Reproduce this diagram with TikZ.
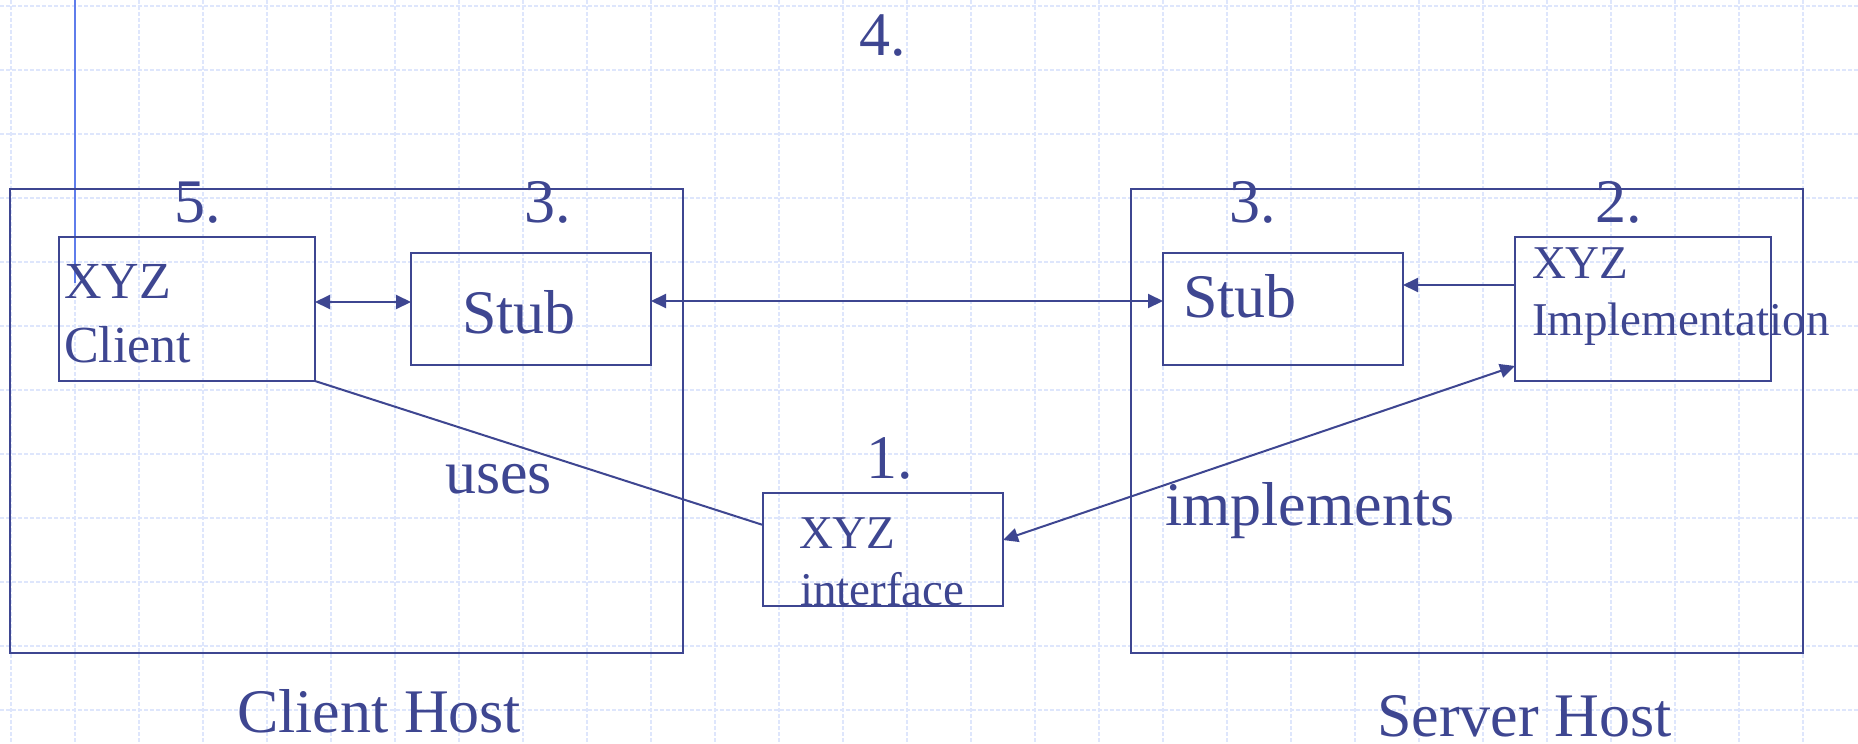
\documentclass[tikz,border=0pt]{standalone}
\usepackage{fontspec}
\setmainfont{Liberation Serif}
\usetikzlibrary{arrows.meta}
\definecolor{ink}{RGB}{62,70,145}
\definecolor{gridc}{RGB}{222,230,252}
\definecolor{strayc}{RGB}{95,125,235}

\begin{document}
\begin{tikzpicture}[x=1pt,y=-1pt, every node/.style={inner sep=0pt,outer sep=0pt,text=ink},
  box/.style={draw=ink,line width=2pt,anchor=north west},
  big/.style={font=\fontsize{62}{62}\selectfont,anchor=base west},
  mid/.style={font=\fontsize{52}{52}\selectfont,anchor=base west},
  sml/.style={font=\fontsize{47}{47}\selectfont,anchor=base west},
  link/.style={draw=ink,line width=2pt},
  gridline/.style={draw=gridc,line width=1.5pt,dash pattern=on 4pt off 2pt},
  >={Triangle[length=15pt,width=14pt]}]
\fill[white] (0,0) rectangle (1858,744);
\useasboundingbox (0,0) rectangle (1858,744);
% background grid
\foreach \gx in {0,...,28} \draw[gridline] (11+64*\gx,0) -- (11+64*\gx,744);
\foreach \gy in {0,...,11} \draw[gridline] (0,6+64*\gy) -- (1858,6+64*\gy);
\coordinate (st1) at (75,0); \coordinate (st2) at (75,283);
\draw[draw=strayc,line width=1.5pt] (st1) -- (st2);
% hosts
\node[box,minimum width=673pt,minimum height=464pt] (chost) at (10,189) {};
\node[box,minimum width=672pt,minimum height=464pt] (shost) at (1131,189) {};
\node[box,minimum width=256pt,minimum height=144pt] (client) at (59,237) {};
\node[box,minimum width=240pt,minimum height=112pt] (cstub) at (411,253) {};
\node[box,minimum width=240pt,minimum height=112pt] (sstub) at (1163,253) {};
\node[box,minimum width=256pt,minimum height=144pt] (impl) at (1515,237) {};
\node[box,minimum width=240pt,minimum height=113pt] (iface) at (763,493) {};
% texts
\node[mid] (clientxyz) at (64,298) {XYZ};
\node[mid] (clienttxt) at (64,362) {Client};
\node[big] (cstubtxt) at (462,333) {Stub};
\node[big] (sstubtxt) at (1183,317) {Stub};
\node[sml] (implxyz) at (1532,278) {XYZ};
\node[sml] (impltxt) at (1532,335) {Implementation};
\node[sml] (ifacexyz) at (799,548) {XYZ};
\node[sml] (ifacetxt) at (800,605) {interface};
\node[big] (n4) at (859,55) {4.};
\node[big] (n5) at (174,222) {5.};
\node[big] (n3c) at (524,222) {3.};
\node[big] (n3s) at (1229,222) {3.};
\node[big] (n2) at (1595,222) {2.};
\node[big] (n1) at (866,478) {1.};
\node[big] (uses) at (445,493) {uses};
\node[big] (impls) at (1165,525) {implements};
\node[big] (chosttxt) at (237,732) {Client Host};
\node[big] (shosttxt) at (1377,736) {Server Host};
% connectors
\draw[link,<->] (client.east |- 0,302) -- (cstub.west |- 0,302);
\draw[link,<->] (cstub.east |- 0,301) -- (sstub.west |- 0,301);
\draw[link,->] (impl.west |- 0,285) -- (sstub.east |- 0,285);
\draw[link] (client.south east) -- (iface.west |- 0,525);
\draw[link,<->] (iface.east |- 0,540) -- (impl.west |- 0,366);
\end{tikzpicture}
\end{document}
